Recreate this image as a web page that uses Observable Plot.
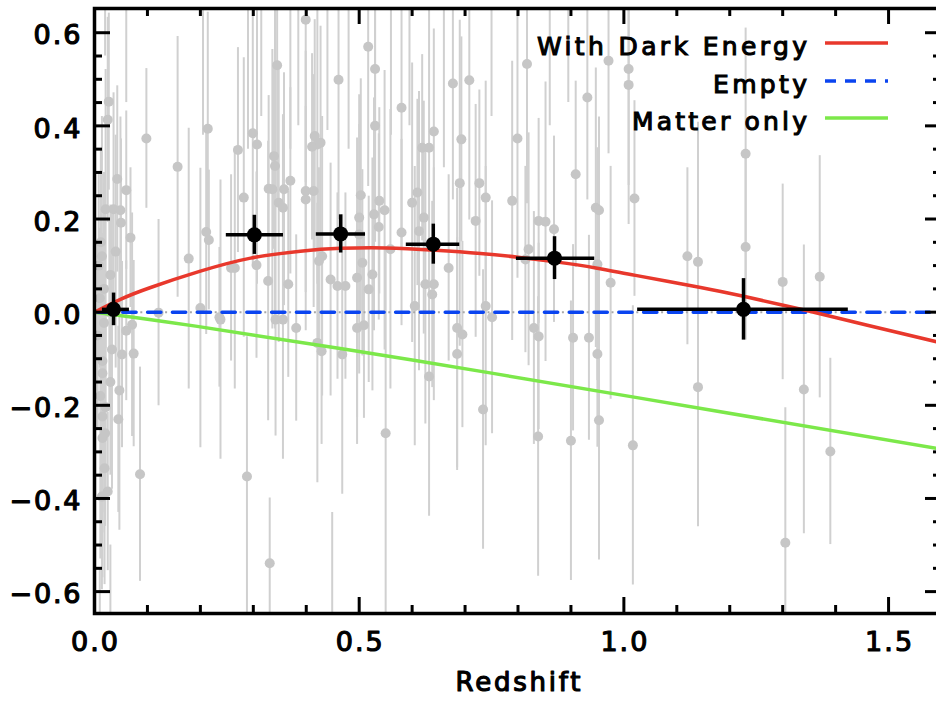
<!DOCTYPE html>
<html><head><meta charset="utf-8">
<script src="https://cdn.jsdelivr.net/npm/d3@7"></script>
<script src="https://cdn.jsdelivr.net/npm/@observablehq/plot@0.6"></script>
<style>
html,body{margin:0;padding:0;overflow:hidden;background:#fff;width:936px;height:706px}
#wrap{position:relative;width:936px;height:706px;overflow:hidden}
#wrap svg.main{max-width:none !important;position:absolute;left:0;top:0}
#legend{position:absolute;left:0;top:0;pointer-events:none}
</style></head><body><div id="wrap"></div>
<script>
// ---- individual supernovae (grey) ----
const snZ = [
0.027,0.025,0.098,0.157,0.043,0.060,0.036,0.021,0.049,0.050,0.068,0.178,0.012,0.014,0.018,0.121,0.018,0.071,0.033,0.052,0.074,0.015,0.015,0.047,0.015,0.021,0.045,0.015,0.020,0.086,0.019,0.014,0.025,0.008,0.030,0.040,0.010,0.006,0.028,0.060,0.011,0.030,
0.214,0.211,0.216,0.200,0.236,0.271,0.282,0.265,0.258,0.299,0.307,0.306,0.345,0.339,0.341,0.329,0.336,0.370,0.358,0.348,0.356,0.328,0.366,0.399,0.461,0.416,0.421,0.411,0.427,0.399,0.399,0.414,0.424,0.430,0.446,0.459,0.517,0.530,0.530,0.580,0.641,0.619,0.632,0.677,0.708,0.693,0.690,0.727,0.503,0.500,0.500,0.538,0.548,0.528,0.537,0.600,0.610,0.622,0.613,0.580,0.559,0.506,0.496,0.525,0.518,0.474,0.669,0.625,0.641,0.638,0.605,0.720,
0.817,0.971,1.009,1.009,0.931,0.799,0.909,0.739,0.789,1.020,0.947,0.953,0.839,0.852,0.868,0.820,0.814,0.950,0.975,0.739,0.751,
0.238,0.288,0.331,0.342,0.356,0.381,0.421,0.429,0.468,0.496,0.509,0.550,0.632,0.685,0.695,0.685,0.734,0.830,0.839,0.838,0.904,0.934,0.950,0.900,0.953,1.017,
1.230,1.120,1.140,1.230,1.300,1.370,1.140,1.340,1.390,1.305,
0.205,0.290,0.315,0.370,0.385,0.440,0.480,0.560,0.595,0.660,0.750,0.860,0.895,0.020,0.060,0.449,0.010,0.030
];
const snDM = [
0.452,0.413,0.373,0.312,0.286,0.262,0.221,0.221,0.219,0.192,0.160,0.115,0.150,0.120,0.050,-0.001,-0.023,-0.027,-0.080,-0.091,-0.089,-0.105,-0.131,-0.168,-0.224,-0.204,-0.230,-0.270,-0.260,-0.348,-0.335,-0.396,-0.385,0.100,0.080,0.130,0.030,-0.050,0.000,-0.040,-0.180,-0.150,
0.394,0.172,0.155,0.009,-0.011,0.348,0.246,0.095,0.095,0.384,0.360,0.101,0.530,0.335,0.314,0.265,0.264,0.282,0.264,0.235,0.224,0.067,0.060,0.628,0.499,0.378,0.360,0.355,0.364,0.260,0.242,0.260,0.110,0.120,0.070,0.056,0.570,0.522,0.400,0.439,0.388,0.353,0.353,0.491,0.498,0.371,0.277,0.277,0.251,0.203,0.167,0.239,0.219,0.210,0.183,0.235,0.257,0.203,0.174,0.171,0.135,0.106,0.074,0.081,0.049,0.056,0.095,0.060,0.060,0.038,0.013,0.196,
0.533,0.540,0.522,0.488,0.461,0.373,0.296,0.246,0.239,0.244,0.224,0.219,0.196,0.194,0.178,0.135,0.113,0.103,0.063,0.013,-0.011,
-0.016,-0.353,-0.539,-0.016,-0.016,-0.034,-0.066,-0.084,-0.091,-0.034,-0.028,-0.260,-0.138,-0.034,-0.048,-0.090,-0.209,-0.034,-0.052,-0.267,-0.055,-0.055,-0.090,-0.276,-0.232,-0.286,
0.340,0.120,0.108,0.140,0.065,0.076,-0.161,-0.166,-0.299,-0.495,
0.78,0.80,0.72,0.75,0.70,0.74,0.80,0.78,0.70,0.76,0.72,0.70,0.75,0.75,0.70,-0.75,-0.75,-0.70
];
const snErr = [
0.19,0.22,0.15,0.28,0.20,0.17,0.25,0.30,0.20,0.18,0.15,0.28,0.20,0.30,0.25,0.20,0.30,0.24,0.30,0.20,0.20,0.25,0.30,0.30,0.25,0.20,0.20,0.30,0.20,0.23,0.25,0.20,0.17,0.20,0.15,0.25,0.15,0.20,0.20,0.15,0.35,0.20,
0.25,0.22,0.15,0.30,0.15,0.22,0.30,0.26,0.20,0.28,0.30,0.20,0.30,0.20,0.35,0.20,0.30,0.20,0.25,0.30,0.20,0.30,0.20,0.35,0.30,0.25,0.30,0.20,0.25,0.30,0.20,0.25,0.20,0.30,0.25,0.20,0.30,0.35,0.25,0.30,0.22,0.20,0.30,0.25,0.30,0.22,0.35,0.20,0.25,0.20,0.30,0.20,0.30,0.25,0.20,0.30,0.20,0.25,0.30,0.20,0.30,0.20,0.30,0.25,0.20,0.20,0.20,0.30,0.25,0.20,0.30,0.25,
0.30,0.20,0.25,0.30,0.22,0.30,0.20,0.25,0.30,0.21,0.30,0.20,0.22,0.30,0.20,0.25,0.20,0.25,0.25,0.30,0.25,
0.30,0.30,0.14,0.25,0.30,0.20,0.30,0.20,0.30,0.25,0.20,0.40,0.30,0.30,0.20,0.25,0.30,0.25,0.20,0.30,0.20,0.22,0.20,0.30,0.30,0.30,
0.27,0.19,0.30,0.20,0.21,0.26,0.30,0.31,0.20,0.29,
0.40,0.45,0.30,0.40,0.30,0.35,0.45,0.40,0.30,0.45,0.30,0.30,0.30,0.20,0.25,0.32,0.20,0.20
];

// ---- binned averages (black) ----
const binZ   = [0.036, 0.302, 0.465, 0.640, 0.869, 1.226];
const binDM  = [0.006, 0.166, 0.168, 0.146, 0.116, 0.006];
const binZlo = [0.015, 0.249, 0.419, 0.589, 0.797, 1.026];
const binZhi = [0.066, 0.357, 0.512, 0.690, 0.945, 1.424];
const binErr = [0.035, 0.042, 0.041, 0.043, 0.046, 0.066];

// ---- model curves ----
const darkZ  = [0, 0.05, 0.106, 0.2, 0.295, 0.389, 0.465, 0.55, 0.644, 0.729, 0.8, 0.871, 0.947, 1.022, 1.145, 1.226, 1.347, 1.46, 1.6];
const darkDM = [0, 0.028, 0.053, 0.088, 0.116, 0.131, 0.137, 0.138, 0.133, 0.126, 0.118, 0.108, 0.095, 0.079, 0.053, 0.034, 0.003, -0.028, -0.066];
const emptyZ  = [0, 1.6];
const emptyDM = [0, 0];
const matterZ  = [0, 0.191, 0.606, 1.022, 1.6];
const matterDM = [0, -0.030, -0.104, -0.183, -0.294];

// ---- axes ----
const xMajor = [0, 0.5, 1.0, 1.5];
const xMinor = [0.1,0.2,0.3,0.4,0.6,0.7,0.8,0.9,1.1,1.2,1.3,1.4];
const yMajor = [-0.6,-0.4,-0.2,0,0.2,0.4,0.6];
const yMinor = [-0.55,-0.5,-0.45,-0.35,-0.3,-0.25,-0.15,-0.1,-0.05,0.05,0.1,0.15,0.25,0.3,0.35,0.45,0.5,0.55];
const xLabel = "Redshift";
const legendLabels = ["With Dark Energy", "Empty", "Matter only"];
const legendColors = ["#e8382c", "#0a44f0", "#7ce84a"];
const legendDash = [null, "11,9", null];
const legendWidths = [270, 94, 175];

const W = 947, H = 706, ML = 94, MR = 6, MT = 8, MB = 93;
const xDom = [0, 1.6], yDom = [-0.647, 0.652];
const pxX = (xDom[1]-xDom[0])/(W-ML-MR), pxY = (yDom[1]-yDom[0])/(H-MT-MB);
const fmt = d3.format(".1f");
const font = "DejaVu Sans";

const sn = snZ.map((z,i)=>({z, dm: snDM[i], err: snErr[i]}));
const bins = binZ.map((z,i)=>({z, dm: binDM[i], lo: binZlo[i], hi: binZhi[i], err: binErr[i]}));
const dark = darkZ.map((z,i)=>({z, dm: darkDM[i]}));
const empty = emptyZ.map((z,i)=>({z, dm: emptyDM[i]}));
const matter = matterZ.map((z,i)=>({z, dm: matterDM[i]}));

const majL = 16, minL = 8;
const tickMarks = [
  Plot.ruleX(xMajor, {x: d=>d, y1: yDom[0], y2: yDom[0]+majL*pxY, stroke:"black", strokeWidth:3}),
  Plot.ruleX(xMinor, {x: d=>d, y1: yDom[0], y2: yDom[0]+minL*pxY, stroke:"black", strokeWidth:3}),
  Plot.ruleX(xMajor, {x: d=>d, y1: yDom[1], y2: yDom[1]-majL*pxY, stroke:"black", strokeWidth:3}),
  Plot.ruleX(xMinor, {x: d=>d, y1: yDom[1], y2: yDom[1]-minL*pxY, stroke:"black", strokeWidth:3}),
  Plot.ruleY(yMajor, {y: d=>d, x1: xDom[0], x2: xDom[0]+majL*pxX, stroke:"black", strokeWidth:3}),
  Plot.ruleY(yMinor, {y: d=>d, x1: xDom[0], x2: xDom[0]+minL*pxX, stroke:"black", strokeWidth:3}),
  Plot.ruleY(yMajor, {y: d=>d, x1: xDom[1], x2: xDom[1]-majL*pxX, stroke:"black", strokeWidth:3}),
  Plot.ruleY(yMinor, {y: d=>d, x1: xDom[1], x2: xDom[1]-minL*pxX, stroke:"black", strokeWidth:3})
];

const txt = {fill: "black", stroke: "black", strokeWidth: 1.2};
const plot = Plot.plot({
  width: W, height: H, marginLeft: ML, marginRight: MR, marginTop: MT, marginBottom: MB,
  x: {domain: xDom, axis: null},
  y: {domain: yDom, axis: null},
  style: {fontFamily: font, background: "white", color: "black", maxWidth: "none", width: W + "px", height: H + "px"},
  marks: [
    Plot.ruleX(sn, {x: "z", y1: d=>d.dm-d.err, y2: d=>d.dm+d.err, stroke: "#d0d0d0", strokeWidth: 2, clip: true}),
    Plot.dot(sn, {x: "z", y: "dm", r: 5, fill: "#c6c6c6", clip: true}),
    Plot.ruleY([0], {stroke: "#a8a8a8", strokeWidth: 2, strokeDasharray: "2,22.8", strokeDashoffset: 3.3}),
    Plot.line(matter, {x: "z", y: "dm", stroke: legendColors[2], strokeWidth: 3.5, curve: "natural", clip: true}),
    Plot.line(empty, {x: "z", y: "dm", stroke: legendColors[1], strokeWidth: 3.5, strokeDasharray: "13.3,11.5", strokeDashoffset: 21.3, clip: true}),
    Plot.line(dark, {x: "z", y: "dm", stroke: legendColors[0], strokeWidth: 3.5, curve: "natural", clip: true}),
    Plot.ruleY(bins, {y: "dm", x1: "lo", x2: "hi", stroke: "black", strokeWidth: 3.5}),
    Plot.ruleX(bins, {x: "z", y1: d=>d.dm-d.err, y2: d=>d.dm+d.err, stroke: "black", strokeWidth: 3.5}),
    Plot.dot(bins, {x: "z", y: "dm", r: 7.5, fill: "black"}),
    ...tickMarks,
    Plot.frame({stroke: "black", strokeWidth: 3.5}),
    Plot.text(xMajor, {x: d=>d, frameAnchor: "bottom", dy: 37, text: d=>fmt(d), fontSize: 27, ...txt}),
    Plot.text(yMajor, {y: d=>d, frameAnchor: "left", dx: -14, dy: 3, textAnchor: "end", text: d=>fmt(d), fontSize: 27, ...txt}),
    Plot.text([xLabel], {frameAnchor: "bottom", dy: 77, text: d=>d, fontSize: 26, ...txt})
  ]
});
plot.classList.add("main");
// widen glyph spacing of the labels to match the reference typeface
plot.querySelectorAll("text").forEach(t => {
  const s = t.textContent;
  let w = null;
  if (s === xLabel) w = 125;
  else if (/^−/.test(s)) w = 71;
  else if (/^\d\.\d$/.test(s)) w = 47;
  if (w) { t.setAttribute("textLength", w); t.setAttribute("lengthAdjust", "spacing"); }
});
const wrap = document.getElementById("wrap");
wrap.appendChild(plot);

// legend overlay (inside plot, top-right)
const ns = "http://www.w3.org/2000/svg";
const lg = document.createElementNS(ns, "svg");
lg.setAttribute("id", "legend");
lg.setAttribute("width", 936); lg.setAttribute("height", 706);
const rowY = [43, 81, 118];
legendLabels.forEach((lab, i) => {
  const t = document.createElementNS(ns, "text");
  t.setAttribute("x", 807); t.setAttribute("y", rowY[i] + 12);
  t.setAttribute("text-anchor", "end");
  t.setAttribute("font-family", font);
  t.setAttribute("font-size", 25);
  t.setAttribute("textLength", legendWidths[i]);
  t.setAttribute("lengthAdjust", "spacing");
  t.setAttribute("fill", "black");
  t.setAttribute("stroke", "black");
  t.setAttribute("stroke-width", 1.1);
  t.textContent = lab;
  lg.appendChild(t);
  const l = document.createElementNS(ns, "line");
  l.setAttribute("x1", 825); l.setAttribute("x2", 888);
  l.setAttribute("y1", rowY[i]); l.setAttribute("y2", rowY[i]);
  l.setAttribute("stroke", legendColors[i]);
  l.setAttribute("stroke-width", 3.5);
  if (legendDash[i]) l.setAttribute("stroke-dasharray", legendDash[i]);
  lg.appendChild(l);
});
wrap.appendChild(lg);
</script></body></html>
